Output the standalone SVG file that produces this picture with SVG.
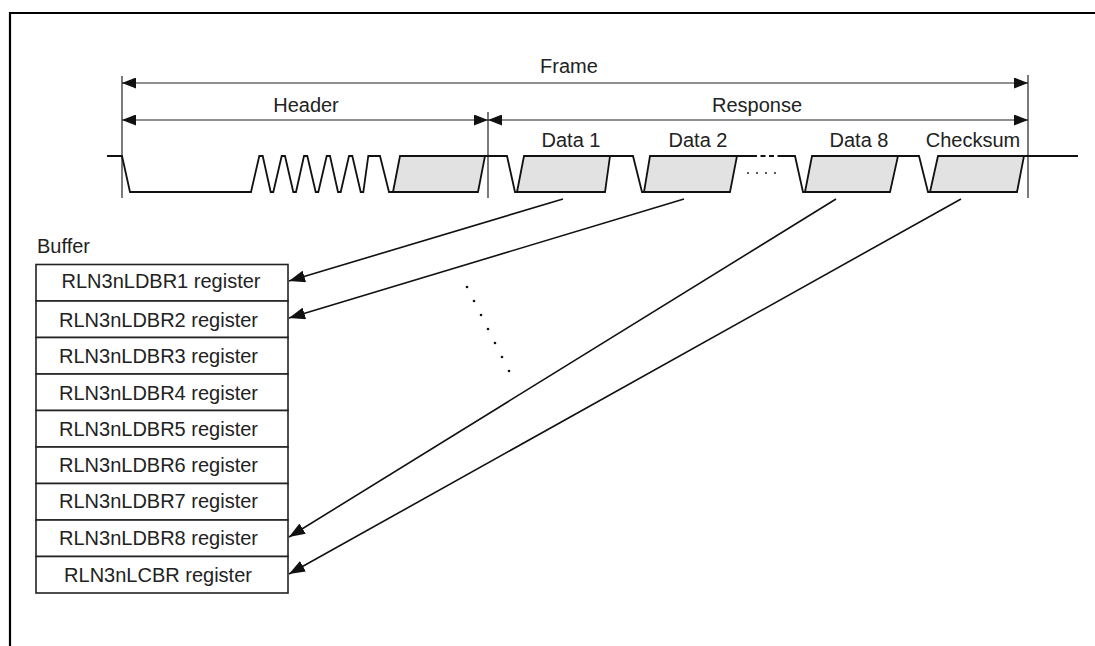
<svg xmlns="http://www.w3.org/2000/svg" width="1095" height="646" viewBox="0 0 1095 646">
<style>
text{font-family:"Liberation Sans",Arial,sans-serif;font-size:20px;fill:#222}
.dim{stroke:#222;stroke-width:1.2;fill:none}
.wave{stroke:#111;stroke-width:1.8;fill:none;stroke-linejoin:miter}
.box{fill:#e2e2e2;stroke:#111;stroke-width:1.8}
.reg rect{fill:#fff;stroke:#222;stroke-width:1.6}
.conn line{stroke:#111;stroke-width:1.6}
</style>
<defs>
<marker id="dh" markerUnits="userSpaceOnUse" markerWidth="14" markerHeight="11" refX="14" refY="5.5" orient="auto-start-reverse"><path d="M0,0 L14,5.5 L0,11 z" fill="#111"/></marker>
<marker id="ah" markerUnits="userSpaceOnUse" markerWidth="17" markerHeight="12" refX="16" refY="6" orient="auto"><path d="M0,0 L16,6 L0,12 z" fill="#111"/></marker>
</defs>
<rect width="1095" height="646" fill="#fff"/>
<path d="M10,646 L10,13 L1095,13" stroke="#000" stroke-width="2.2" fill="none"/>

<g id="timing">
<line class="dim" x1="122" y1="76" x2="122" y2="198"/>
<line class="dim" x1="488" y1="112" x2="488" y2="198"/>
<line class="dim" x1="1028" y1="75" x2="1028" y2="198"/>
<line class="dim" x1="122" y1="83" x2="1028" y2="83" marker-start="url(#dh)" marker-end="url(#dh)"/>
<line class="dim" x1="122" y1="120" x2="488" y2="120" marker-start="url(#dh)" marker-end="url(#dh)"/>
<line class="dim" x1="488" y1="120" x2="1028" y2="120" marker-start="url(#dh)" marker-end="url(#dh)"/>
<text x="569" y="73" text-anchor="middle">Frame</text>
<text x="306" y="112" text-anchor="middle">Header</text>
<text x="757" y="112" text-anchor="middle">Response</text>
<text x="571" y="147" text-anchor="middle">Data 1</text>
<text x="698" y="147" text-anchor="middle">Data 2</text>
<text x="859" y="147" text-anchor="middle">Data 8</text>
<text x="973" y="147" text-anchor="middle">Checksum</text>
<polygon class="box" points="393,192 400,156 485,156 478,192"/>
<polygon class="box" points="517,192 524,156 610,156 605,192"/>
<polygon class="box" points="644,192 650,156 737,156 730,192"/>
<polygon class="box" points="805,192 812,156 898,156 890,192"/>
<polygon class="box" points="930,192 938,156 1024,156 1017,192"/>
<path class="wave" d="M107,156 L122,156 L130,192 L251,192 L259.3,156 L262.7,156 L270.7,192 L273.3,192 L281.7,156 L285,156 L293.3,192 L296,192 L304,156 L307.3,156 L315.7,192 L318.3,192 L326.7,156 L330,156 L338,192 L340.7,192 L349,156 L352.3,156 L360.7,192 L363.3,192 L368.3,156 L380,156 L389,192 L478,192 M485,156 L507,156 L515,192 L517,192 M610,156 L633,156 L642,192 L644,192 M737,156 L752,156 M780,156 L795,156 L803,192 L805,192 M898,156 L919,156 L928,192 L930,192 M1024,156 L1078,156"/>
<path d="M752,156 L780,156" stroke="#111" stroke-width="1.8" stroke-dasharray="5,3.5" fill="none"/>
<g fill="#222">
<circle cx="748" cy="173" r="1"/><circle cx="757" cy="173" r="1"/><circle cx="766" cy="173" r="1"/><circle cx="775" cy="173" r="1"/>
</g>
</g>

<text x="37" y="253">Buffer</text>
<g id="reg1" class="reg"><rect x="36" y="264.5" width="252" height="36.5"/><text x="161" y="287.5" text-anchor="middle">RLN3nLDBR1 register</text></g>
<g id="reg2" class="reg"><rect x="36" y="301" width="252" height="36.5"/><text x="158.5" y="326.7" text-anchor="middle">RLN3nLDBR2 register</text></g>
<g id="reg3" class="reg"><rect x="36" y="337.5" width="252" height="36.5"/><text x="158.5" y="363.3" text-anchor="middle">RLN3nLDBR3 register</text></g>
<g id="reg4" class="reg"><rect x="36" y="374" width="252" height="36.5"/><text x="158.5" y="399.7" text-anchor="middle">RLN3nLDBR4 register</text></g>
<g id="reg5" class="reg"><rect x="36" y="410.5" width="252" height="36.5"/><text x="158.5" y="436" text-anchor="middle">RLN3nLDBR5 register</text></g>
<g id="reg6" class="reg"><rect x="36" y="447" width="252" height="36.5"/><text x="158.5" y="472.3" text-anchor="middle">RLN3nLDBR6 register</text></g>
<g id="reg7" class="reg"><rect x="36" y="483.5" width="252" height="36.5"/><text x="158.5" y="508.3" text-anchor="middle">RLN3nLDBR7 register</text></g>
<g id="reg8" class="reg"><rect x="36" y="520" width="252" height="36.5"/><text x="158.5" y="545" text-anchor="middle">RLN3nLDBR8 register</text></g>
<g id="reg9" class="reg"><rect x="36" y="556.5" width="252" height="36.5"/><text x="158" y="581.7" text-anchor="middle">RLN3nLCBR register</text></g>

<g id="connectors" class="conn">
<line x1="563" y1="199" x2="289" y2="281" marker-end="url(#ah)"/>
<line x1="684" y1="199" x2="289" y2="318" marker-end="url(#ah)"/>
<line x1="836" y1="199" x2="289" y2="537" marker-end="url(#ah)"/>
<line x1="961" y1="199" x2="289" y2="574" marker-end="url(#ah)"/>
</g>
<g id="ellipsis" fill="#111">
<circle cx="467" cy="287" r="1.3"/><circle cx="474" cy="301" r="1.3"/><circle cx="481" cy="315" r="1.3"/><circle cx="488" cy="329" r="1.3"/><circle cx="495" cy="343" r="1.3"/><circle cx="502" cy="357" r="1.3"/><circle cx="509" cy="371" r="1.3"/>
</g>
</svg>
